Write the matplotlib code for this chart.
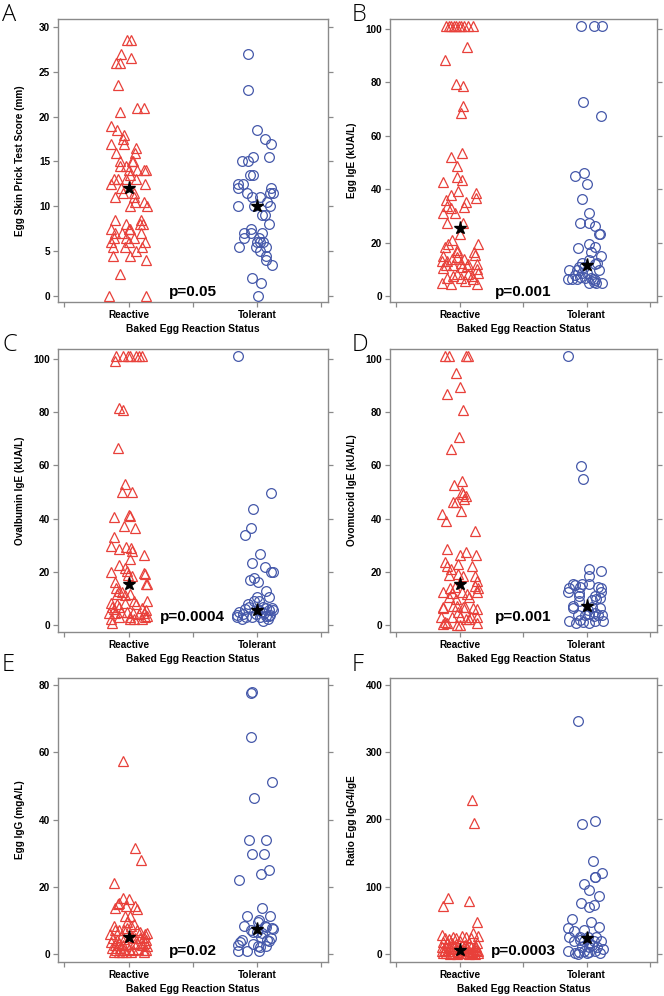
import matplotlib
matplotlib.use("Agg")
import matplotlib.pyplot as plt
import numpy as np

plt.rcParams['font.family'] = ['Liberation Sans', 'DejaVu Sans']

categories = ["Reactive", "Tolerant"]
xlabel_text = "Baked Egg Reaction Status"

# ---------------- Panel A ----------------
a_react_vals = [28.5, 28.5, 27, 26, 26, 26.5, 23.5, 20.5, 21, 21, 19, 18.5, 18, 17.5, 17, 17, 16.5, 16, 16, 15,
                14.5, 14.5, 15, 15, 14, 14, 14, 14, 13.5, 13, 13, 13, 13, 12.5, 12.5, 12, 11.5, 11.5, 11, 11,
                10.5, 10.5, 10, 10, 8.5, 8.5, 8, 8, 8, 7.5, 7.5, 7.5, 7, 7, 7, 6.5, 6.5, 6.5, 6, 6,
                6, 5.5, 5.5, 5.5, 5, 4.5, 4.5, 4, 2.5, 0, 0]
a_react_jit = [-0.01, 0.02, -0.06, -0.10, -0.07, 0.02, -0.08, -0.065, 0.065, 0.12, -0.14, -0.09, -0.035, -0.04, -0.035, -0.14, 0.06, -0.10, 0.05, -0.07,
               -0.065, -0.02, 0.03, 0.035, 0, 0.065, 0.12, 0.135, 0.01, -0.11, -0.08, -0.02, 0.06, -0.135, 0.13, -0.06, -0.045, 0.045, -0.105, 0.04,
               0.05, 0.12, 0.01, 0.14, -0.105, 0.10, -0.02, 0.09, 0.115, -0.135, 0, 0.01, -0.105, -0.05, 0.10, -0.11, -0.02, 0.04, -0.135, 0.005,
               0.13, -0.12, -0.025, 0.105, 0.06, -0.12, 0.01, 0.135, -0.065, -0.15, 0.135]
a_tol_vals = [27, 23, 18.5, 17.5, 17, 15.5, 15.5, 15, 15, 13.5, 13.5, 12.5, 12.5, 12, 12, 11.5, 11.5, 11.5, 11, 11,
              10.5, 10, 10, 10, 9, 9, 8, 7.5, 7, 7, 7, 6.5, 6.5, 6, 6, 6, 5.5, 5.5, 5.5, 5,
              4.5, 4, 3.5, 2, 1.5, 0]
a_tol_jit = [-0.07, -0.07, 0.005, 0.06, 0.11, -0.026, 0.094, -0.117, -0.065, -0.052, -0.031, -0.148, -0.109, -0.143, 0.112, -0.073, 0.099, 0.125, -0.036, 0.021,
             0.078, -0.145, -0.021, 0.104, 0.039, 0.065, 0.094, -0.047, -0.096, -0.044, 0.042, -0.099, 0.018, 0, 0.021, 0.047, -0.14, -0.005, 0.073, 0.021,
             0.068, 0.068, 0.12, -0.039, 0.031, 0.013]
a_medians = [12.0, 10.0]

# ---------------- Panel B ----------------
b_react_vals = [101, 101, 101, 101, 101, 101, 101, 101, 101, 101, 93.2, 88.5, 79.5, 78.7, 71, 68.5, 53.4, 52.2, 48.8, 44.7,
                43.4, 42.8, 39.4, 38.7, 36.8, 37.9, 35.9, 35.3, 33.7, 33, 33.4, 30.9, 30.9, 27.4, 27.4, 23.4, 20.9, 19.3, 19.3, 18.4,
                17.1, 16.5, 16.3, 15.3, 14.9, 14.0, 14.6, 13.0, 13.0, 14.0, 11.5, 11.5, 12.4, 12.1, 11.3, 12.1, 10.3, 10.9, 10.0, 8.6,
                8.1, 8.1, 7.4, 7.4, 6.8, 6.8, 6.3, 5.6, 4.9, 4.4, 4.4]
b_react_jit = [-0.106, -0.087, -0.066, -0.045, -0.026, -0.008, 0.013, 0.034, 0.066, 0.106, 0.055, -0.113, -0.029, 0.024, 0.029, 0.013, 0.021, -0.071, -0.018, -0.018,
               0.018, -0.135, -0.013, 0.129, 0.129, -0.071, -0.108, 0.05, -0.098, -0.071, 0.034, -0.129, -0.034, -0.098, 0.029, 0.005, -0.061, 0.14, -0.092, -0.119,
               -0.024, -0.024, 0.113, 0.124, -0.135, -0.061, -0.018, -0.098, -0.14, 0.034, -0.106, -0.05, 0.008, 0.066, 0.055, 0.137, -0.132, 0.018, 0.135, 0.145,
               -0.018, 0.066, -0.05, 0.098, -0.1, 0.013, 0.106, 0.04, -0.14, -0.066, 0.137]
b_tol_vals = [101, 101, 101, 72.5, 67.5, 44.9, 46.2, 42.1, 36.2, 31.2, 27.4, 27.2, 26.2, 23.4, 23.4, 17.8, 19.6, 18.4, 16.5, 15.0,
              13.4, 12.4, 12.4, 11.9, 10.9, 10.9, 9.9, 9.9, 9.9, 8.6, 8.6, 7.8, 7.1, 6.4, 6.4, 6.4, 6.9, 6.9, 6.4, 5.9,
              5.3, 4.9, 4.9, 4.9]
b_tol_jit = [-0.048, 0.058, 0.121, -0.032, 0.111, -0.095, -0.018, 0.003, -0.04, 0.018, -0.05, 0.016, 0.063, 0.095, 0.106, -0.071, 0.016, 0.069, 0.032, 0.111,
             0.016, -0.04, 0.084, 0.069, -0.063, -0.021, -0.137, -0.077, 0.095, -0.037, 0.005, -0.095, -0.053, -0.143, -0.116, -0.077, -0.011, 0.032, 0.048, 0.069,
             0.058, 0.021, 0.074, 0.121]
b_medians = [25.3, 11.5]

# ---------------- Panel C ----------------
c_react_vals = [101, 101, 101, 101, 101, 101, 101, 99.1, 81.7, 81.0, 66.7, 52.9, 50.0, 50.0, 41.3, 41.0, 40.6, 37.2, 36.5, 32.9,
                29.7, 29.2, 28.4, 28.8, 27.9, 24.8, 26.3, 22.5, 21.5, 20.0, 20.4, 18.8, 18.5, 19.4, 19.0, 16.3, 15.6, 15.3, 13.8, 12.8,
                12.4, 11.6, 11.3, 11.5, 8.4, 7.8, 8.1, 9.0, 7.8, 9.1, 6.9, 5.9, 6.6, 6.3, 5.6, 4.4, 4.4, 5.0, 5.0, 4.4,
                4.1, 4.6, 3.4, 2.1, 2.9, 3.1, 2.1, 2.1, 3.1, 0.9, 2.4]
c_react_jit = [-0.1, -0.045, -0.008, 0.008, 0.061, 0.079, 0.106, -0.109, -0.072, -0.04, -0.085, -0.029, -0.05, 0.024, 0.005, 0.013, -0.114, -0.032, 0.053, -0.114,
               -0.135, -0.019, -0.072, 0.019, 0.024, 0.008, 0.124, -0.072, -0.026, -0.135, -0.013, -0.008, 0.024, 0.119, 0.127, -0.103, 0.135, 0.14, -0.098, -0.077,
               -0.053, -0.093, -0.029, 0.008, -0.14, -0.093, -0.026, 0.04, 0.061, 0.14, -0.13, -0.114, -0.072, 0.108, 0.135, -0.151, -0.106, -0.061, -0.013, 0.034,
               0.079, 0.119, 0.143, -0.135, -0.072, 0.008, 0.04, 0.106, 0.132, -0.13, 0.013]
c_tol_vals = [101, 49.8, 43.7, 36.3, 34.0, 26.7, 23.4, 21.8, 20.1, 20.1, 17.1, 17.5, 16.0, 12.8, 10.5, 10.4, 9.1, 7.9, 9.0, 6.6,
              5.9, 5.0, 4.1, 6.9, 6.3, 5.6, 6.3, 5.6, 5.6, 5.0, 4.4, 3.4, 3.4, 2.9, 2.1, 3.1, 2.9, 4.1, 3.1, 1.6,
              2.1, 3.8, 3.8]
c_tol_jit = [-0.146, 0.114, -0.032, -0.045, -0.093, 0.024, -0.037, 0.063, 0.114, 0.124, -0.05, -0.019, 0.013, 0.071, 0.098, 0, -0.019, -0.071, 0.016, -0.061,
             -0.093, -0.135, -0.108, 0.045, 0.071, 0.098, 0.119, 0.13, 0.019, 0.04, 0.058, 0.071, 0.093, -0.151, -0.114, -0.087, -0.034, -0.008, 0.024, 0.05,
             0.087, 0.103, -0.151]
c_medians = [15.6, 5.6]

# ---------------- Panel D ----------------
d_react_vals = [101, 101, 101, 101, 94.7, 89.5, 86.7, 80.7, 70.7, 66.0, 54.1, 52.6, 49.9, 49.4, 48.6, 46.3, 46.3, 47.3, 42.8, 41.6,
                39.0, 35.4, 28.7, 27.5, 26.5, 26.5, 23.8, 22.2, 22.8, 22.2, 21.2, 18.9, 19.1, 18.4, 18.6, 16.6, 14.8, 13.8, 13.8, 14.4,
                11.9, 10.6, 12.4, 12.3, 9.8, 11.5, 10.6, 12.3, 6.9, 6.3, 7.3, 7.1, 6.6, 6.9, 6.3, 5.9, 5.0, 3.1, 2.9, 2.9,
                2.1, 2.1, 2.9, 2.9, 1.3, 0.6, 0.3, 0.0, 0.0, 0.6]
d_react_jit = [-0.113, -0.087, 0.053, 0.066, -0.032, 0, -0.098, 0.026, -0.008, -0.066, 0.018, -0.045, 0.021, 0.029, 0.053, -0.053, -0.026, 0.034, 0.013, -0.137,
               -0.106, 0.124, -0.1, 0.048, 0.003, 0.127, -0.119, -0.103, -0.013, 0.098, -0.071, -0.087, -0.016, 0.024, 0.119, 0.135, 0.124, 0.14, -0.077, -0.04,
               -0.061, -0.087, -0.135, 0.018, -0.032, 0.055, 0.071, 0.132, -0.135, -0.129, -0.05, -0.024, 0.026, 0.04, 0.106, 0.135, -0.013, -0.145, -0.063, 0.003,
               0.053, 0.071, 0.092, 0.135, -0.113, -0.098, -0.129, -0.024, 0.003, 0.137]
d_tol_vals = [101, 59.7, 54.9, 20.9, 20.3, 18.6, 15.6, 15.6, 15.6, 14.0, 14.3, 14.9, 14.3, 14.0, 12.4, 12.1, 12.4, 10.9, 10.9, 9.9,
              10.0, 9.4, 8.9, 7.1, 6.5, 6.9, 6.3, 5.6, 4.6, 3.8, 3.8, 4.1, 3.4, 3.8, 3.8, 1.5, 0.9, 2.0, 1.3, 0.9,
              1.6, 1.5]
d_tol_jit = [-0.143, -0.048, -0.032, 0.016, 0.111, 0.021, -0.106, -0.037, 0.016, -0.137, -0.053, -0.09, 0.09, 0.111, -0.143, -0.063, 0.111, -0.063, 0.063, 0.074,
             0.106, 0.042, -0.058, -0.111, -0.106, 0.042, 0.106, 0.011, 0.069, -0.069, -0.016, 0.016, 0.055, 0.09, 0.121, -0.137, -0.084, -0.053, -0.032, 0.016,
             0.069, 0.127]
d_medians = [15.3, 7.1]

# ---------------- Panel E ----------------
e_react_vals = [57.4, 31.4, 28.0, 21.1, 16.8, 16.5, 14.9, 15.3, 13.7, 14.2, 14.2, 13.4, 11.4, 11.4, 9.4, 8.2, 8.9, 8.2, 7.2, 7.2,
                7.0, 7.7, 7.2, 6.4, 5.9, 6.2, 5.9, 4.8, 4.3, 5.2, 4.5, 5.2, 4.8, 4.8, 5.2, 4.3, 3.5, 2.8, 3.3, 2.8,
                3.1, 3.0, 3.3, 2.8, 3.3, 2.3, 1.7, 1.3, 1.8, 1.3, 1.5, 1.3, 1.5, 1.3, 0.5, 0.5, 0.5, 0.5, 0.5, 0.5,
                1.1]
e_react_jit = [-0.047, 0.049, 0.099, -0.117, -0.044, 0.003, -0.086, -0.073, -0.109, -0.018, 0.049, 0.065, -0.026, 0.008, -0.013, 0.018, 0.044, -0.117, -0.104, -0.075,
               -0.039, -0.013, 0.065, 0.091, 0.13, 0.143, -0.143, -0.122, -0.091, -0.06, -0.034, 0.026, 0.052, 0.086, 0.117, 0.135, -0.135, -0.104, -0.078, -0.044,
               -0.018, 0.039, 0.065, 0.104, 0.13, 0.143, -0.13, -0.096, -0.065, -0.034, 0, 0.034, 0.07, 0.117, -0.117, -0.078, -0.052, -0.018, 0.018, 0.122,
               0.138]
e_tol_vals = [78.0, 77.6, 64.6, 51.3, 46.3, 34.0, 33.8, 29.7, 29.6, 25.0, 23.7, 22.0, 13.7, 11.2, 11.4, 10.2, 9.4, 8.2, 8.4, 7.7,
              7.4, 7.0, 6.4, 6.4, 6.2, 7.9, 5.0, 4.7, 4.1, 3.5, 4.1, 3.8, 2.8, 3.1, 2.5, 2.1, 2.3, 1.0, 1.0, 1.0]
e_tol_jit = [-0.039, -0.042, -0.047, 0.12, -0.021, -0.062, 0.068, -0.039, 0.057, 0.094, 0.031, -0.14, 0.044, -0.073, 0.104, 0.016, 0.01, -0.099, 0.062, 0.12,
             0.125, -0.047, -0.026, 0, 0.042, 0.068, 0.036, 0.109, -0.114, -0.13, 0.078, 0.094, -0.146, -0.026, 0.01, 0.021, 0.073, -0.146, -0.073, 0.016]
e_medians = [5.2, 7.4]

# ---------------- Panel F ----------------
f_react_vals = [229.7, 195.5, 83.2, 70.8, 78.2, 47.5, 31.2, 28.2, 26.2, 23.8, 22.3, 25.2, 23.8, 27.2, 25.2, 24.0, 18, 16, 17, 15,
                19, 14, 17, 12, 16, 10, 11, 9, 12, 8, 10, 9, 11, 8, 10, 5, 6, 4, 7, 5,
                3, 6, 4, 5, 3, 6, 4, 1, 2, 0.5, 1.5, 0.5, 2, 1, 0.5, 1.5, 0.5, 1]
f_react_jit = [0.095, 0.111, -0.092, -0.135, 0.071, 0.137, 0.108, -0.137, 0.14, -0.119, -0.087, -0.05, -0.026, 0.018, 0.053, 0.087, -0.13, -0.1, -0.06, -0.03,
               0.0, 0.04, 0.07, 0.12, 0.135, -0.14, -0.11, -0.08, -0.05, -0.02, 0.03, 0.06, 0.09, 0.11, 0.13, -0.14, -0.115, -0.09, -0.07, -0.045,
               -0.01, 0.02, 0.05, 0.075, 0.1, 0.125, 0.14, -0.135, -0.105, -0.075, -0.05, -0.02, 0.01, 0.04, 0.07, 0.095, 0.12, 0.14]
f_tol_vals = [347, 193, 198.5, 138, 115, 114, 120, 104, 95.5, 86.6, 75.2, 72.8, 69.3, 52.5, 47.0, 38.6, 40, 33.7, 35, 24.8,
              24.8, 26, 26, 19, 21, 19, 16, 20, 20, 14, 11, 8, 10, 11, 4, 1.5, 0.5, 2.5, 4, 1.5,
              2.5, 4.5, 1.5]
f_tol_jit = [-0.066, -0.04, 0.069, 0.048, 0.063, 0.069, 0.124, -0.018, 0.018, 0.095, -0.048, 0.058, 0.018, -0.116, 0.037, -0.143, 0.1, -0.098, -0.024, -0.137,
             -0.053, 0.013, 0.077, -0.103, -0.05, -0.021, 0.016, 0.058, 0.116, 0.042, 0.082, 0.127, -0.037, 0.016, -0.143, -0.095, -0.071, -0.058, -0.024, 0.005,
             0.021, 0.069, 0.106]
f_medians = [6.4, 23.8]

# ---------------- labels, ticks, p-values ----------------
panel_letters = ["A", "B", "C", "D", "E", "F"]
ylabels = ["Egg Skin Prick Test Score (mm)", "Egg IgE (kUA/L)", "Ovalbumin IgE (kUA/L)",
           "Ovomucoid IgE (kUA/L)", "Egg IgG (mgA/L)", "Ratio Egg IgG4/IgE"]
pvalues = ["p=0.05", "p=0.001", "p=0.0004", "p=0.001", "p=0.02", "p=0.0003"]
yticks_list = [[0, 5, 10, 15, 20, 25, 30], [0, 20, 40, 60, 80, 100], [0, 20, 40, 60, 80, 100],
               [0, 20, 40, 60, 80, 100], [0, 20, 40, 60, 80], [0, 100, 200, 300, 400]]
ylims = [(-0.67, 30.89), (-2.25, 103.75), (-2.63, 103.76), (-2.63, 103.76), (-2.38, 82.1), (-11.9, 410.4)]
p_ypos = [0.035, 0.035, 0.053, 0.053, 0.039, 0.039]

panels = [
    (a_react_vals, a_react_jit, a_tol_vals, a_tol_jit, a_medians),
    (b_react_vals, b_react_jit, b_tol_vals, b_tol_jit, b_medians),
    (c_react_vals, c_react_jit, c_tol_vals, c_tol_jit, c_medians),
    (d_react_vals, d_react_jit, d_tol_vals, d_tol_jit, d_medians),
    (e_react_vals, e_react_jit, e_tol_vals, e_tol_jit, e_medians),
    (f_react_vals, f_react_jit, f_tol_vals, f_tol_jit, f_medians),
]

RED = "#e8403a"
BLUE = "#4558aa"
GREY = "#8a8a8a"

W, H = 664, 996
fig = plt.figure(figsize=(W / 100, H / 100), dpi=100)

col_left = [58, 390]
col_width = [270, 267]
row_top = [19, 349, 678]
row_bottom = [302, 632, 962]
letter_pos = [(2, 3), (352, 3), (2, 333), (352, 333), (2, 653), (352, 653)]

for i, (rv, rj, tv, tj, med) in enumerate(panels):
    r, c = divmod(i, 2)
    left = col_left[c] / W
    width = col_width[c] / W
    bottom = 1 - row_bottom[r] / H
    height = (row_bottom[r] - row_top[r]) / H
    ax = fig.add_axes([left, bottom, width, height])

    n = min(len(rv), len(rj))
    ax.plot(1 + np.asarray(rj[:n]), np.asarray(rv[:n]), linestyle='none', marker='^', ms=6.7,
            mfc='none', mec=RED, mew=0.9, zorder=3)
    n = min(len(tv), len(tj))
    ax.plot(2 + np.asarray(tj[:n]), np.asarray(tv[:n]), linestyle='none', marker='o', ms=7.0,
            mfc='none', mec=BLUE, mew=0.9, zorder=3)
    ax.plot([1, 2], med, linestyle='none', marker='*', ms=9.5, color='black', zorder=4)

    ax.set_xlim(0.45, 2.555)
    ax.set_ylim(*ylims[i])
    ax.set_xticks([0.5, 1, 1.5, 2, 2.5])
    ax.set_xticklabels(["", categories[0], "", categories[1], ""])
    ax.set_yticks(yticks_list[i])
    ax.set_yticklabels([str(t) for t in yticks_list[i]])
    for s in ax.spines.values():
        s.set_color(GREY)
        s.set_linewidth(1.0)
    ax.tick_params(axis='both', direction='out', length=3.5, width=0.9, color=GREY,
                   labelsize=7.2, pad=2)
    ax.tick_params(axis='y', right=True, labelright=False)
    for lab in ax.get_xticklabels() + ax.get_yticklabels():
        lab.set_fontweight('bold')
    ax.set_ylabel(ylabels[i], fontsize=7.2, fontweight='bold')
    ax.yaxis.set_label_coords(-0.122, 0.5)
    ax.set_xlabel(xlabel_text, fontsize=7.4, fontweight='bold')
    ax.xaxis.set_label_coords(0.5, -0.078)

    ax.text(1.5, p_ypos[i], pvalues[i], transform=ax.get_xaxis_transform(),
            ha='center', va='center', fontsize=11, fontweight='bold', zorder=5)

    lx, ly = letter_pos[i]
    fig.text(lx / W, 1 - ly / H, panel_letters[i], ha='left', va='top',
             fontsize=17, family=['Open Sans', 'DejaVu Sans'], fontweight='light')

fig.savefig("out.png", dpi=100)
